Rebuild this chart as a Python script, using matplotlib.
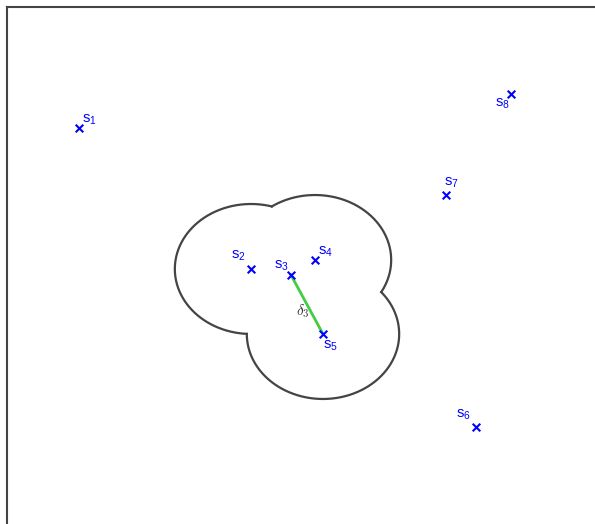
import numpy as np
import matplotlib
matplotlib.use('Agg')
import matplotlib.pyplot as plt

plt.rcParams['font.family'] = ['Liberation Sans', 'DejaVu Sans']

# site coordinates
names = ['1', '2', '3', '4', '5', '6', '7', '8']
xs = [1.224, 4.150, 4.830, 5.238, 5.374, 7.976, 7.466, 8.571]
ys = [7.895, 5.084, 4.964, 5.263, 3.788, 1.934, 6.559, 8.573]

# neighbourhood of s3: discs around these sites, radius = |s3 - s5|
disc_sites = [1, 2, 3, 4]
centre = 2
nearest = 4

# label offsets in pixels (dx, dy), and alignment
lab_off = [(3, 1), (-5, 6), (-2, 2), (3, 1), (0, -5), (-5, 5), (-2, 5), (-1, -3)]
lab_ha = ['left', 'right', 'right', 'left', 'left', 'right', 'left', 'right']
lab_va = ['bottom', 'bottom', 'bottom', 'bottom', 'top', 'bottom', 'bottom', 'top']

fig = plt.figure(figsize=(5.95, 5.24), dpi=100)
ax = fig.add_axes([7 / 595, 0, 1 - 7 / 595, 1 - 7 / 524])
ax.set_xlim(0, 10)
ax.set_ylim(0, 10.307)
ax.set_xticks([])
ax.set_yticks([])
for side in ['right', 'bottom']:
    ax.spines[side].set_visible(False)
for side in ['left', 'top']:
    ax.spines[side].set_color('#444444')
    ax.spines[side].set_linewidth(1.5)

xs_a = np.array(xs)
ys_a = np.array(ys)
r = np.hypot(xs_a[centre] - xs_a[nearest], ys_a[centre] - ys_a[nearest])

# outer boundary of the union of discs
th = np.linspace(0, 2 * np.pi, 3000)
for i in disc_sites:
    px = xs_a[i] + r * np.cos(th)
    py = ys_a[i] + r * np.sin(th)
    keep = np.ones_like(th, dtype=bool)
    for j in disc_sites:
        if j == i:
            continue
        keep &= np.hypot(px - xs_a[j], py - ys_a[j]) > r
    # split into continuous runs
    idx = np.where(keep)[0]
    if len(idx) == 0:
        continue
    breaks = np.where(np.diff(idx) > 1)[0]
    runs = np.split(idx, breaks + 1)
    if len(runs) > 1 and runs[0][0] == 0 and runs[-1][-1] == len(th) - 1:
        runs[0] = np.concatenate([runs[-1], runs[0]])
        runs = runs[:-1]
    for run in runs:
        ax.plot(px[run], py[run], color='#444444', lw=1.6, zorder=1)

ax.plot([xs[centre], xs[nearest]], [ys[centre], ys[nearest]],
        color='#44cc44', lw=2, zorder=2)
ax.annotate(r'$\delta_3$', ((xs[centre] + xs[nearest]) / 2, (ys[centre] + ys[nearest]) / 2),
            xytext=(3, -7), textcoords='offset pixels', ha='right', va='center',
            fontsize=11, color='#333333', math_fontfamily='cm')

ax.scatter(xs, ys, marker='x', s=30, color='#0000ff', linewidths=1.5, zorder=3)

for i, n in enumerate(names):
    ax.annotate(r'$\mathregular{s_' + n + '}$', (xs[i], ys[i]), xytext=lab_off[i],
                textcoords='offset pixels', ha=lab_ha[i], va=lab_va[i],
                fontsize=10.5, color='#0000ff')

fig.savefig('out.png', dpi=100)
